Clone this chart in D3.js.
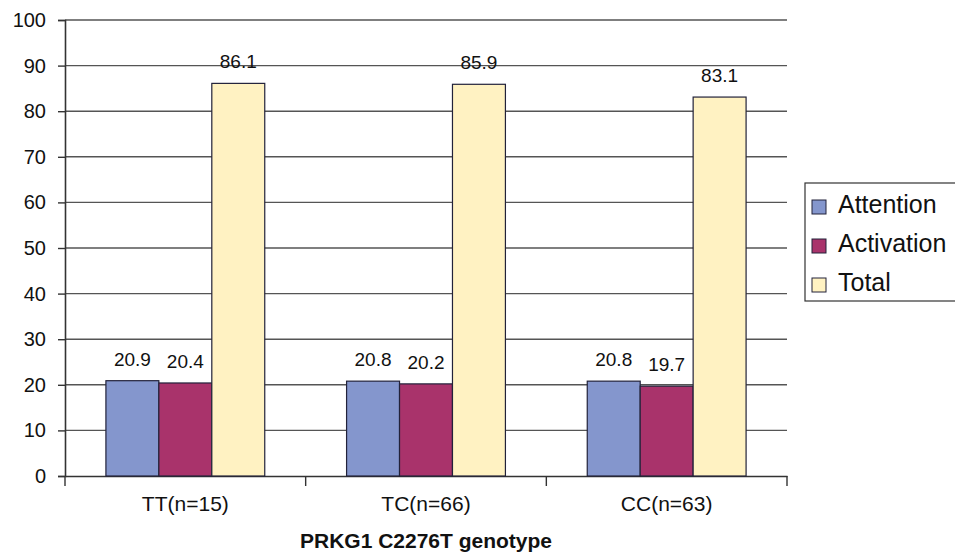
<!DOCTYPE html>
<html><head><meta charset="utf-8">
<script src="https://cdn.jsdelivr.net/npm/d3@7"></script>
<style>body{margin:0;background:#fff}svg{display:block;font-family:"Liberation Sans",Arial,sans-serif}</style>
</head><body>
<svg id="c" width="955" height="556"></svg>
<script>
const categories = ["TT(n=15)", "TC(n=66)", "CC(n=63)"];
const seriesNames = ["Attention", "Activation", "Total"];
const attention = [20.9, 20.8, 20.8];
const activation = [20.4, 20.2, 19.7];
const total = [86.1, 85.9, 83.1];
const yTicks = [0, 10, 20, 30, 40, 50, 60, 70, 80, 90, 100];
const colors = ["#8496cd", "#a9336b", "#fff2c2"];
const xTitle = "PRKG1 C2276T genotype";

const series = [attention, activation, total];
const svg = d3.select("#c");
const L = 65, R = 787, T = 20, B = 476;
const x = d3.scaleBand().domain(categories).range([L, R]).paddingInner(0).paddingOuter(0);
const x1 = d3.scaleBand().domain(seriesNames).range([x.bandwidth()*0.17, x.bandwidth()*0.83]).padding(0);
const y = d3.scaleLinear().domain([0, 100]).range([B, T]);
const FF = '"Liberation Sans",Arial,sans-serif';

// gridlines
svg.append("g").selectAll("line").data(yTicks.filter(d => d > 0)).join("line")
  .attr("x1", L).attr("x2", R).attr("y1", d => y(d)).attr("y2", d => y(d))
  .attr("stroke", "#555").attr("stroke-width", 1.4);

// y axis
const ya = svg.append("g").attr("transform", `translate(${L},0)`)
  .call(d3.axisLeft(y).tickValues(yTicks).tickSize(7).tickPadding(12));
ya.select(".domain").attr("stroke", "#333").attr("stroke-width", 1.6);
ya.selectAll(".tick line").attr("stroke", "#333").attr("stroke-width", 1.4);
ya.selectAll("text").attr("font-size", 20).attr("fill", "#111").attr("font-family", FF);

// x axis
const xa = svg.append("g").attr("transform", `translate(0,${B})`)
  .call(d3.axisBottom(x).tickSize(0).tickPadding(20));
xa.select(".domain").attr("stroke", "#333").attr("stroke-width", 1.6);
xa.selectAll("text").attr("font-size", 21).attr("fill", "#111").attr("font-family", FF);
const xtickPos = [L].concat(categories.map(c => x(c) + x.bandwidth()));
svg.append("g").selectAll("line").data(xtickPos).join("line")
  .attr("x1", d => d).attr("x2", d => d).attr("y1", B).attr("y2", B + 10)
  .attr("stroke", "#333").attr("stroke-width", 1.4);

// bars
const groups = svg.append("g").selectAll("g").data(categories).join("g")
  .attr("transform", c => `translate(${x(c)},0)`);
seriesNames.forEach((s, si) => {
  groups.append("rect")
    .attr("x", x1(s)).attr("width", x1.bandwidth())
    .attr("y", (c, ci) => y(series[si][ci]))
    .attr("height", (c, ci) => B - y(series[si][ci]))
    .attr("fill", colors[si]).attr("stroke", "#22223a").attr("stroke-width", 1.2);
  groups.append("text")
    .attr("x", x1(s) + x1.bandwidth()/2)
    .attr("y", (c, ci) => y(series[si][ci]) - 15)
    .attr("text-anchor", "middle").attr("font-size", 19).attr("fill", "#111")
    .text((c, ci) => series[si][ci].toFixed(1));
});

// x title
svg.append("text").attr("x", 426).attr("y", 548).attr("text-anchor", "middle")
  .attr("font-size", 21).attr("font-weight", "bold").attr("fill", "#111").text(xTitle);

// legend
const lg = svg.append("g");
lg.append("rect").attr("x", 805).attr("y", 183).attr("width", 160).attr("height", 118)
  .attr("fill", "#fff").attr("stroke", "#333").attr("stroke-width", 1.2);
seriesNames.forEach((s, i) => {
  const cy = 205 + i * 39;
  lg.append("rect").attr("x", 812).attr("y", cy - 5).attr("width", 14).attr("height", 14)
    .attr("fill", colors[i]).attr("stroke", "#22223a").attr("stroke-width", 1);
  lg.append("text").attr("x", 838).attr("y", cy + 8).attr("font-size", 25).attr("fill", "#111").text(s);
});
</script>
</body></html>
